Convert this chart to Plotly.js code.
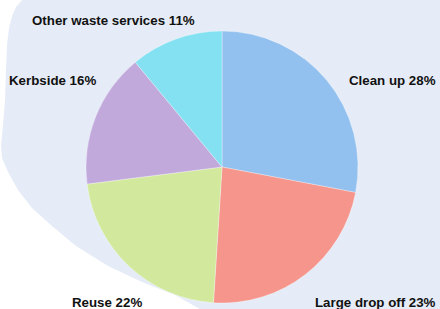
<!DOCTYPE html>
<html>
<head>
<meta charset="utf-8">
<script src="https://cdn.plot.ly/plotly-3.0.1.min.js"></script>
<style>
  html, body { margin: 0; padding: 0; background: #ffffff; }
  #chart { width: 440px; height: 309px; }
</style>
</head>
<body>
<div id="chart"></div>
<script>
// ---- data ----
const categories = ["Clean up", "Large drop off", "Reuse", "Kerbside", "Other waste services"];
const shares = [28, 23, 22, 16, 11];
const sliceColors = ["#93c1ef", "#f5958b", "#d2e99d", "#c2a9dc", "#84e1f1"];

// ---- layout helpers ----
const W = 440, H = 309;
const px = (x) => x / W;
const py = (y) => 1 - y / H;

// label anchor positions (pixels: x, middle y, horizontal anchor)
const labelPos = [
  [438, 80, "right"],
  [438, 302, "right"],
  [70, 302, "left"],
  [7, 80, "left"],
  [30, 21, "left"]
];

// background blob outline in pixels
const blob = [
  [22, 0], [16, 7], [12, 16], [9, 28], [7, 45], [6, 70], [5, 100], [3, 125], [1, 145],
  [2, 158], [8, 172], [18, 190], [32, 208], [52, 226], [76, 246], [108, 266],
  [142, 282], [175, 295], [200, 309], [440, 309], [440, 0]
];
const blobPath = blob.map((p, i) => (i ? "L" : "M") + px(p[0]).toFixed(4) + "," + py(p[1]).toFixed(4)).join(" ") + " Z";

const trace = {
  type: "pie",
  labels: categories,
  values: shares,
  sort: false,
  direction: "clockwise",
  rotation: 0,
  textinfo: "none",
  hoverinfo: "label+percent",
  marker: { colors: sliceColors, line: { color: "rgba(255,255,255,0.5)", width: 0.6 } },
  domain: { x: [px(86), px(358)], y: [py(303), py(31)] },
  showlegend: false
};

const annotations = categories.map((c, i) => ({
  text: c + " " + shares[i] + "%",
  xref: "paper", yref: "paper",
  x: px(labelPos[i][0]), y: py(labelPos[i][1]),
  xanchor: labelPos[i][2], yanchor: "middle",
  showarrow: false,
  font: { family: "Liberation Sans, Arial, sans-serif", size: 13.3, color: "#111111", weight: "bold" }
}));

const layout = {
  width: W, height: H,
  margin: { l: 0, r: 0, t: 0, b: 0 },
  paper_bgcolor: "#ffffff",
  plot_bgcolor: "rgba(0,0,0,0)",
  shapes: [{
    type: "path", xref: "paper", yref: "paper", path: blobPath,
    fillcolor: "#e6ecf7", line: { width: 0 }, layer: "below"
  }],
  annotations: annotations
};

Plotly.newPlot("chart", [trace], layout, { displayModeBar: false, staticPlot: true });
</script>
</body>
</html>
